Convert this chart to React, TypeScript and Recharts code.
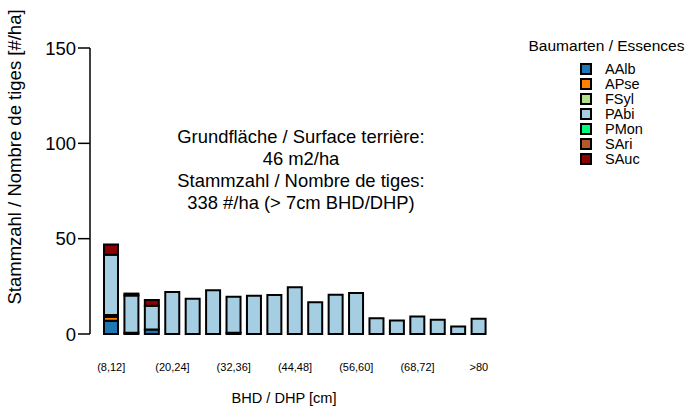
import React from "react";
import { Bar, BarChart, Legend, XAxis, YAxis } from "recharts";

const classes = [
	"(8,12]", "(12,16]", "(16,20]", "(20,24]", "(24,28]", "(28,32]", "(32,36]",
	"(36,40]", "(40,44]", "(44,48]", "(48,52]", "(52,56]", "(56,60]", "(60,64]",
	"(64,68]", "(68,72]", "(72,76]", "(76,80]", ">80",
];

// Stammzahl je Baumart und Klasse [#/ha]
const aalb = [7, 0.7, 2.3, 0, 0, 0, 0.7, 0, 0, 0, 0, 0, 0, 0, 0, 0, 0, 0, 0];
const apse = [2, 0, 0, 0, 0, 0, 0, 0, 0, 0, 0, 0, 0, 0, 0, 0, 0, 0, 0];
const fsyl = [1, 0, 0, 0, 0, 0, 0, 0, 0, 0, 0, 0, 0, 0, 0, 0, 0, 0, 0];
const pabi = [31.5, 19.5, 12.5, 22, 18.5, 23, 18.8, 20, 20.5, 24.5, 16.7, 20.6, 21.5, 8.2, 7.1, 9.2, 7.5, 3.9, 8];
const pmon = [0, 0, 0, 0, 0, 0, 0, 0, 0, 0, 0, 0, 0, 0, 0, 0, 0, 0, 0];
const sari = [0, 0, 0, 0, 0, 0, 0, 0, 0, 0, 0, 0, 0, 0, 0, 0, 0, 0, 0];
const sauc = [5.5, 1, 3, 0, 0, 0, 0, 0, 0, 0, 0, 0, 0, 0, 0, 0, 0, 0, 0];

const species = ["AAlb", "APse", "FSyl", "PAbi", "PMon", "SAri", "SAuc"];
const colors = ["#1F78B4", "#FF7F00", "#B2DF8A", "#A6CEE3", "#00FA7A", "#B15928", "#8B0000"];
const values = [aalb, apse, fsyl, pabi, pmon, sari, sauc];

const yTicks = [0, 50, 100, 150];

const infoLines = [
	"Grundfläche / Surface terrière:",
	"46 m2/ha",
	"Stammzahl / Nombre de tiges:",
	"338 #/ha (> 7cm BHD/DHP)",
];

const data = classes.map((cls, i) => {
	const row: Record<string, number | string> = { cls };
	species.forEach((s, j) => { row[s] = values[j][i]; });
	return row;
});

const font = "'Liberation Sans', Arial, sans-serif";

function ClassTick(props: any) {
	const { x, y, payload } = props;
	return <text x={x} y={y + 29} textAnchor="middle" fontSize={11} fontFamily={font} fill="#000">
		{payload.value}
	</text>;
}

function SpeciesLegend() {
	return <div style={{ fontFamily: font, color: "#000" }}>
		<div style={{ fontSize: 15.5, textAlign: "center", lineHeight: "18px", marginBottom: 6 }}>Baumarten / Essences</div>
		{species.map((s, i) => <div key={s} style={{ display: "flex", alignItems: "center", height: 15, paddingLeft: 56 }}>
			<span style={{ display: "inline-block", width: 8, height: 8, background: colors[i], border: "2px solid #000", marginRight: 13 }} />
			<span style={{ fontSize: 14.5 }}>{s}</span>
		</div>)}
	</div>;
}

export default function App() {
	return <div style={{ position: "absolute", left: 0, top: 0 }}>
		<BarChart width={689} height={408} data={data} barSize={14}
			margin={{ top: 48, right: 200, bottom: 0, left: 0 }}>
			<XAxis dataKey="cls" axisLine={false} tickLine={false} interval={2} height={74}
				padding={{ left: 11, right: 0 }} tick={<ClassTick />} />
			<YAxis width={90} domain={[0, 150]} ticks={yTicks} tickSize={12} tickMargin={2}
				axisLine={{ stroke: "#000", strokeWidth: 1.5 }} tickLine={{ stroke: "#000", strokeWidth: 1.5 }}
				tick={{ fill: "#000", fontSize: 18.5, fontFamily: font }} />
			<Legend verticalAlign="middle" align="center" layout="vertical" content={<SpeciesLegend />}
				wrapperStyle={{ left: 524, top: 37, width: 165, height: "auto" }} />
			{species.map((s, i) => <Bar key={s} dataKey={s} stackId="n" fill={colors[i]}
				stroke="#000" strokeWidth={2} isAnimationActive={false} />)}
			<g fontFamily={font} fontSize={18.4} fill="#000" textAnchor="middle">
				{infoLines.map((t, i) => <text key={i} x={301} y={143 + i * 22}>{t}</text>)}
				<text x={21} y={157} transform="rotate(-90 21 157)" fontSize={18.5}>Stammzahl / Nombre de tiges [#/ha]</text>
				<text x={284} y={403} fontSize={14.6}>BHD / DHP [cm]</text>
			</g>
		</BarChart>
	</div>;
}
